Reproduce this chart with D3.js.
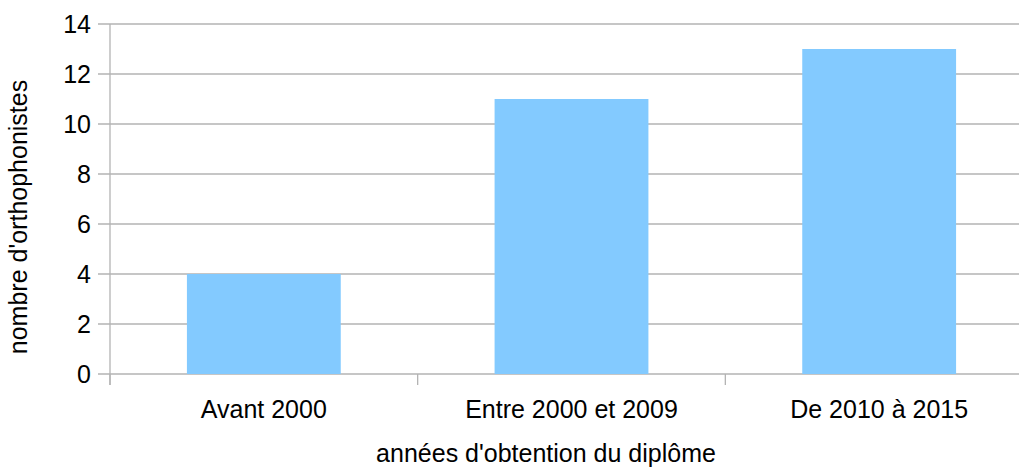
<!DOCTYPE html>
<html>
<head>
<meta charset="utf-8">
<script src="https://cdn.jsdelivr.net/npm/d3@7"></script>
<style>
  html, body { margin: 0; padding: 0; background: #fff; }
  svg { display: block; font-family: "Liberation Sans", Arial, sans-serif; }
</style>
</head>
<body>
<svg id="chart" width="1019" height="468"></svg>
<script>
const categories = ["Avant 2000", "Entre 2000 et 2009", "De 2010 à 2015"];
const values = [4, 11, 13];
const yTicks = [0, 2, 4, 6, 8, 10, 12, 14];
const xTitle = "années d'obtention du diplôme";
const yTitle = "nombre d'orthophonistes";

const svg = d3.select("#chart");
const plotLeft = 110, plotRight = 1033, plotTop = 24, plotBottom = 374;

const x = d3.scaleBand().domain(categories).range([plotLeft, plotRight])
  .paddingInner(0.5).paddingOuter(0.25);
const y = d3.scaleLinear().domain([0, 14]).range([plotBottom, plotTop]);

const gridColor = "#b3b3b3";

// gridlines
svg.append("g").selectAll("line").data(yTicks).join("line")
  .attr("x1", plotLeft - 12).attr("x2", plotRight)
  .attr("y1", d => y(d)).attr("y2", d => y(d))
  .attr("stroke", gridColor).attr("stroke-width", 1.3);

// y tick labels
svg.append("g").selectAll("text").data(yTicks).join("text")
  .attr("x", 91).attr("y", d => y(d))
  .attr("dy", "0.36em")
  .attr("text-anchor", "end")
  .attr("font-size", 25)
  .attr("fill", "#000")
  .text(d => d);

// bars
svg.append("g").selectAll("rect").data(values).join("rect")
  .attr("x", (d, i) => x(categories[i]))
  .attr("width", x.bandwidth())
  .attr("y", d => y(d))
  .attr("height", d => y(0) - y(d))
  .attr("fill", "#83caff");

// y axis line
svg.append("line")
  .attr("x1", plotLeft).attr("x2", plotLeft)
  .attr("y1", y(14)).attr("y2", plotBottom + 11)
  .attr("stroke", gridColor).attr("stroke-width", 1.3);

// x category boundary ticks
const step = x.step();
const gap = (step - x.bandwidth()) / 2;
svg.append("g").selectAll("line").data(categories).join("line")
  .attr("x1", d => x(d) - gap).attr("x2", d => x(d) - gap)
  .attr("y1", plotBottom).attr("y2", plotBottom + 11)
  .attr("stroke", gridColor).attr("stroke-width", 1.3);

// x tick labels
svg.append("g").selectAll("text").data(categories).join("text")
  .attr("x", d => x(d) + x.bandwidth() / 2)
  .attr("y", 418)
  .attr("text-anchor", "middle")
  .attr("font-size", 25)
  .attr("fill", "#000")
  .text(d => d);

// x title
svg.append("text")
  .attr("x", 546).attr("y", 462)
  .attr("text-anchor", "middle")
  .attr("font-size", 25)
  .attr("fill", "#000")
  .text(xTitle);

// y title
svg.append("text")
  .attr("transform", "translate(27,217) rotate(-90)")
  .attr("text-anchor", "middle")
  .attr("font-size", 25)
  .attr("fill", "#000")
  .text(yTitle);
</script>
</body>
</html>
